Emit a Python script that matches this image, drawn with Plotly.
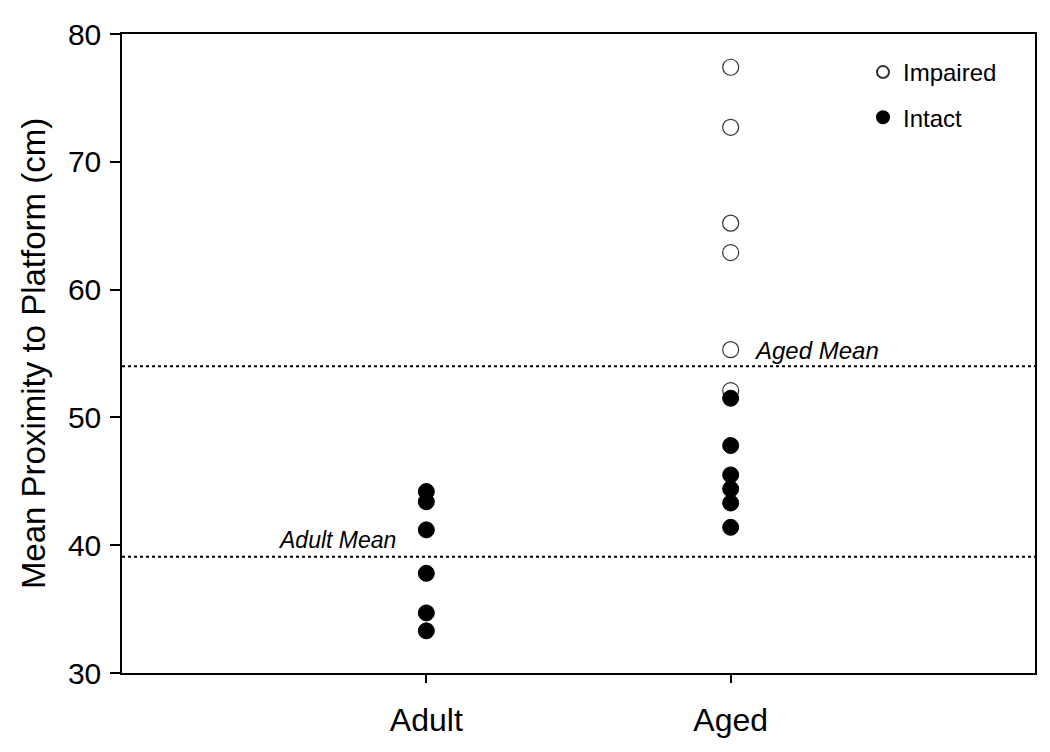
import plotly.graph_objects as go

categories = ["Adult", "Aged"]
cat_pos = [1, 2]

adult_intact = [44.2, 43.4, 41.2, 37.8, 34.7, 33.3]
aged_impaired = [77.4, 72.7, 65.2, 62.9, 55.3, 52.1]
aged_intact = [51.5, 47.8, 45.5, 44.4, 43.3, 41.4]

adult_mean = 39.1
aged_mean = 54.0

y_ticks = [30, 40, 50, 60, 70, 80]

font_family = "Liberation Sans, Arial, sans-serif"

fig = go.Figure()

# Mean lines
fig.add_trace(go.Scatter(x=[0, 3], y=[aged_mean, aged_mean], mode="lines",
                         line=dict(color="black", width=2, dash="dot"),
                         showlegend=False, hoverinfo="skip"))
fig.add_trace(go.Scatter(x=[0, 3], y=[adult_mean, adult_mean], mode="lines",
                         line=dict(color="black", width=2, dash="dot"),
                         showlegend=False, hoverinfo="skip"))

fig.add_trace(go.Scatter(
    x=[cat_pos[1]] * len(aged_impaired), y=aged_impaired, mode="markers",
    name="Impaired", legendgroup="a",
    marker=dict(symbol="circle", size=16, color="white",
                line=dict(color="#333333", width=1.2))))
fig.add_trace(go.Scatter(
    x=[cat_pos[0]] * len(adult_intact) + [cat_pos[1]] * len(aged_intact),
    y=adult_intact + aged_intact, mode="markers",
    name="Intact", legendgroup="b",
    marker=dict(symbol="circle", size=16, color="black",
                line=dict(color="black", width=1))))

fig.add_annotation(x=2.07, y=aged_mean, yshift=16, text="<i>Aged Mean</i>",
                   showarrow=False, xanchor="left", yanchor="middle",
                   font=dict(size=24, color="black", family=font_family))
fig.add_annotation(x=0.907, y=adult_mean, yshift=17, text="<i>Adult Mean</i>",
                   showarrow=False, xanchor="right", yanchor="middle",
                   font=dict(size=23, color="black", family=font_family))

fig.update_layout(
    width=1042, height=744,
    margin=dict(l=114, r=15, t=26, b=79, autoexpand=False),
    plot_bgcolor="white", paper_bgcolor="white",
    font=dict(family=font_family, color="black"),
    legend=dict(x=0.8116, y=0.975, xanchor="left", yanchor="top",
                bgcolor="rgba(0,0,0,0)", font=dict(size=24),
                itemsizing="constant", traceorder="grouped",
                tracegroupgap=11),
)
fig.update_xaxes(range=[0, 3], tickmode="array", tickvals=cat_pos,
                 ticktext=categories, ticks="outside", ticklen=8,
                 tickcolor="black", tickwidth=1.5, ticklabelstandoff=10,
                 tickfont=dict(size=32), showline=True, linecolor="black",
                 linewidth=1.5, mirror=True, showgrid=False, zeroline=False,
                 automargin=False)
fig.update_yaxes(range=[30, 80], tickmode="array", tickvals=y_ticks,
                 ticks="outside", ticklen=10, tickcolor="black", tickwidth=1.5,
                 ticklabelstandoff=3, automargin=False,
                 tickfont=dict(size=30), showline=True, linecolor="black",
                 linewidth=1.5, mirror=True, showgrid=False, zeroline=False,
                 title=dict(text="Mean Proximity to Platform (cm)",
                            font=dict(size=33), standoff=12))

fig.write_html("out.html")
